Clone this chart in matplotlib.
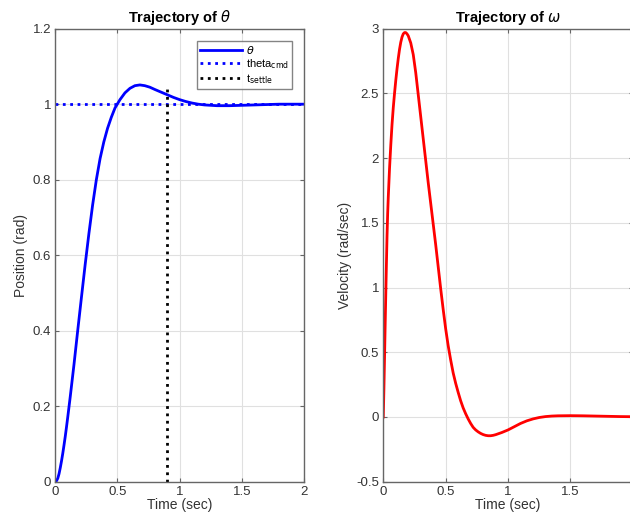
import matplotlib
matplotlib.use("Agg")
import matplotlib.pyplot as plt

# values
t_theta = [0.00, 0.01, 0.02, 0.03, 0.04, 0.05, 0.06, 0.07, 0.08, 0.09, 0.10,
           0.12, 0.15, 0.18, 0.21, 0.24, 0.27, 0.30, 0.33, 0.36, 0.39, 0.42,
           0.45, 0.48, 0.52, 0.56, 0.60, 0.64, 0.68, 0.72, 0.76, 0.80, 0.85,
           0.90, 0.95, 1.00, 1.05, 1.10, 1.15, 1.20, 1.30, 1.40, 1.50, 1.60,
           1.70, 1.80, 2.00]
theta = [0.000, 0.0025, 0.009, 0.021, 0.037, 0.055, 0.075, 0.097, 0.120,
         0.145, 0.171, 0.225, 0.310, 0.400, 0.488, 0.575, 0.657, 0.733, 0.800,
         0.856, 0.900, 0.936, 0.965, 0.990, 1.012, 1.030, 1.042, 1.049, 1.051,
         1.049, 1.045, 1.039, 1.032, 1.025, 1.018, 1.012, 1.007, 1.003, 1.000,
         0.998, 0.996, 0.996, 0.997, 0.998, 0.999, 1.000, 1.000]

t_omega = [0.000, 0.005, 0.010, 0.015, 0.020, 0.025, 0.030, 0.035, 0.040,
           0.045, 0.050, 0.060, 0.070, 0.080, 0.090, 0.100, 0.110, 0.120,
           0.130, 0.140, 0.150, 0.160, 0.170, 0.180, 0.190, 0.200, 0.220,
           0.240, 0.260, 0.280, 0.300, 0.320, 0.340, 0.360, 0.380, 0.400,
           0.420, 0.440, 0.460, 0.480, 0.500, 0.520, 0.540, 0.560, 0.580,
           0.600, 0.620, 0.640, 0.660, 0.680, 0.700, 0.720, 0.740, 0.760,
           0.780, 0.800, 0.820, 0.840, 0.860, 0.880, 0.900, 0.950, 1.000,
           1.050, 1.100, 1.150, 1.200, 1.250, 1.300, 1.350, 1.400, 1.500,
           1.600, 1.700, 1.800, 1.900, 2.000]
omega = [0.00, 0.22, 0.46, 0.71, 0.95, 1.18, 1.40, 1.57, 1.70, 1.81, 1.92,
         2.10, 2.26, 2.39, 2.50, 2.60, 2.69, 2.77, 2.84, 2.895, 2.935, 2.96,
         2.97, 2.97, 2.96, 2.945, 2.89, 2.80, 2.66, 2.49, 2.32, 2.15, 1.98,
         1.81, 1.65, 1.49, 1.33, 1.16, 0.99, 0.83, 0.68, 0.55, 0.44, 0.34,
         0.26, 0.19, 0.125, 0.07, 0.025, -0.015, -0.05, -0.08, -0.10, -0.115,
         -0.127, -0.136, -0.142, -0.145, -0.145, -0.142, -0.137, -0.12, -0.10,
         -0.075, -0.05, -0.03, -0.015, -0.004, 0.003, 0.007, 0.009, 0.01,
         0.009, 0.007, 0.005, 0.003, 0.002]

theta_cmd = 1.0
t_settle = 0.9
settle_top = 1.05

plt.rcParams['font.family'] = ['Liberation Sans', 'DejaVu Sans']
plt.rcParams['mathtext.fontset'] = 'dejavusans'

fig = plt.figure(figsize=(6.3, 5.15), dpi=100)
ax1 = fig.add_axes([0.0878, 0.0647, 0.3948, 0.8796])
ax2 = fig.add_axes([0.6084, 0.0647, 0.3962, 0.8796])


def style(ax):
    for s in ax.spines.values():
        s.set_color('0.4')
        s.set_linewidth(1.0)
    ax.tick_params(direction='in', top=True, right=True, colors='0.4',
                   labelcolor='0.2', labelsize=9.5, length=3, pad=3)
    ax.grid(True, color='0.88', linewidth=0.8)
    ax.set_axisbelow(True)


ax1.plot(t_theta, theta, color='blue', lw=2, label=r'$\theta$')
ax1.plot([0, 2], [theta_cmd, theta_cmd], color='blue', lw=2, ls=':',
         label=r'theta$_{\mathrm{cmd}}$')
ax1.plot([t_settle, t_settle], [0, settle_top], color='black', lw=2, ls=':',
         label=r't$_{\mathrm{settle}}$')
ax1.set_xlim(0, 2)
ax1.set_ylim(0, 1.2)
ax1.set_xticks([0, 0.5, 1, 1.5, 2])
ax1.set_xticklabels(['0', '0.5', '1', '1.5', '2'])
ax1.set_yticks([0, 0.2, 0.4, 0.6, 0.8, 1, 1.2])
ax1.set_yticklabels(['0', '0.2', '0.4', '0.6', '0.8', '1', '1.2'])
style(ax1)
ax1.set_xlabel('Time (sec)', fontsize=10, color='0.2', labelpad=0)
ax1.set_ylabel('Position (rad)', fontsize=10, color='0.2', labelpad=3)
ax1.set_title(r'Trajectory of $\theta$', fontsize=10.5, fontweight='bold', pad=5)
leg = ax1.legend(loc='upper right', fontsize=8, frameon=True, fancybox=False,
                 handlelength=3.8, handletextpad=0.3, borderpad=0.3,
                 labelspacing=0.1, borderaxespad=1.1)
leg.get_frame().set_edgecolor('0.4')
leg.get_frame().set_linewidth(1.0)

ax2.plot(t_omega, omega, color='red', lw=2)
ax2.set_xlim(0, 2)
ax2.set_ylim(-0.5, 3)
ax2.set_xticks([0, 0.5, 1, 1.5, 2])
ax2.set_xticklabels(['0', '0.5', '1', '1.5', '2'])
ax2.set_yticks([-0.5, 0, 0.5, 1, 1.5, 2, 2.5, 3])
ax2.set_yticklabels(['-0.5', '0', '0.5', '1', '1.5', '2', '2.5', '3'])
style(ax2)
ax2.set_xlabel('Time (sec)', fontsize=10, color='0.2', labelpad=0)
ax2.set_ylabel('Velocity (rad/sec)', fontsize=10, color='0.2', labelpad=3)
ax2.set_title(r'Trajectory of $\omega$', fontsize=10.5, fontweight='bold', pad=5)

fig.savefig('out.png', dpi=100)
